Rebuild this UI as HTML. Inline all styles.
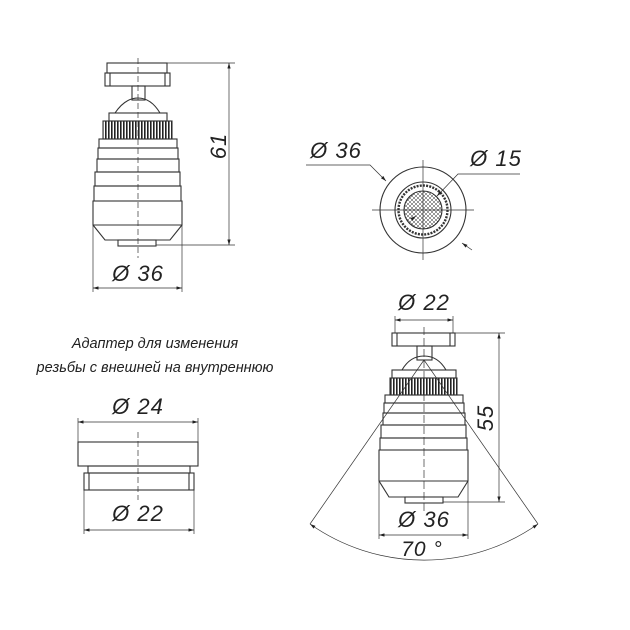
<!DOCTYPE html>
<html><head><meta charset="utf-8"><style>body{margin:0;background:#fff}svg{display:block}text{font-family:"Liberation Sans","DejaVu Sans",sans-serif;font-style:italic;fill:#222}</style></head><body>
<svg width="630" height="630" viewBox="0 0 630 630" xmlns="http://www.w3.org/2000/svg">
<defs>
<marker id="a" viewBox="0 0 10 6" refX="10" refY="3" markerWidth="8" markerHeight="5" orient="auto-start-reverse"><path d="M0,0L10,3L0,6z" fill="#222"/></marker>
<pattern id="k" width="3" height="10" patternUnits="userSpaceOnUse"><rect width="1.6" height="10" fill="#222"/></pattern>
<pattern id="m" width="4" height="4" patternUnits="userSpaceOnUse"><path d="M0,0L4,4M4,0L0,4" stroke="#333" stroke-width="0.5"/></pattern>
</defs>
<g fill="none" stroke="#333" stroke-width="1.1">
<rect x="107" y="63" width="60" height="10"/><rect x="105" y="73" width="65" height="13"/><line x1="110" y1="73" x2="110" y2="86"/><line x1="165" y1="73" x2="165" y2="86"/>
<rect x="132" y="86" width="13" height="14"/>
<path d="M115,113 Q125,98 138,98 Q151,98 160,113"/>
<rect x="109" y="113" width="58" height="8"/>
<rect x="103" y="121" width="69" height="18" fill="url(#k)"/>
<rect x="99" y="139" width="78" height="9"/>
<rect x="98" y="148" width="80" height="11"/>
<rect x="97" y="159" width="82" height="13"/>
<rect x="95" y="172" width="85" height="14"/>
<rect x="94" y="186" width="87" height="15"/>
<path d="M93,201 L182,201 L182,225 L170,240 L105,240 L93,225 Z"/>
<line x1="93" y1="225" x2="182" y2="225"/>
<rect x="118" y="240" width="38" height="6"/>
<line x1="138" y1="58" x2="138" y2="258" stroke-dasharray="6,3" stroke-width="0.7"/>
<g stroke-width="0.7"><line x1="167" y1="63" x2="235" y2="63"/><line x1="156" y1="245" x2="235" y2="245"/>
<line x1="229" y1="63" x2="229" y2="245" marker-start="url(#a)" marker-end="url(#a)"/>
<line x1="93" y1="225" x2="93" y2="292"/><line x1="182" y1="225" x2="182" y2="292"/>
<line x1="93" y1="288" x2="182" y2="288" marker-start="url(#a)" marker-end="url(#a)"/></g>
<circle cx="423" cy="210" r="43"/><circle cx="423" cy="210" r="28"/>
<circle cx="423" cy="210" r="24.5" stroke-dasharray="2,1.2" stroke-width="2.4"/>
<circle cx="423" cy="210" r="19" fill="url(#m)"/>
<g stroke-width="0.7"><line x1="372" y1="210" x2="474" y2="210"/><line x1="423" y1="160" x2="423" y2="260"/>
<polyline points="306,165 370,165 386,181" marker-end="url(#a)"/>
<polyline points="520,174 458,174 437,196" marker-end="url(#a)"/>
<line x1="412" y1="219" x2="416" y2="216" marker-end="url(#a)"/>
<line x1="472" y1="250" x2="462" y2="243" marker-end="url(#a)"/></g>
<rect x="78" y="442" width="120" height="24"/>
<rect x="88" y="466" width="102" height="7"/>
<rect x="84" y="473" width="110" height="17"/><line x1="89" y1="473" x2="89" y2="490"/><line x1="189" y1="473" x2="189" y2="490"/>
<line x1="138" y1="432" x2="138" y2="500" stroke-dasharray="6,3" stroke-width="0.7"/>
<g stroke-width="0.7"><line x1="78" y1="418" x2="78" y2="442"/><line x1="198" y1="418" x2="198" y2="442"/>
<line x1="78" y1="422" x2="198" y2="422" marker-start="url(#a)" marker-end="url(#a)"/>
<line x1="84" y1="490" x2="84" y2="534"/><line x1="194" y1="490" x2="194" y2="534"/>
<line x1="84" y1="530" x2="194" y2="530" marker-start="url(#a)" marker-end="url(#a)"/></g>
<rect x="392" y="333" width="63" height="13"/><line x1="397" y1="333" x2="397" y2="346"/><line x1="450" y1="333" x2="450" y2="346"/>
<rect x="417" y="346" width="15" height="14"/>
<path d="M402,370 Q410,356 424,356 Q438,356 446,370"/>
<rect x="392" y="370" width="64" height="8"/>
<rect x="390" y="378" width="67" height="17" fill="url(#k)"/>
<rect x="385" y="395" width="78" height="8"/>
<rect x="384" y="403" width="80" height="10"/>
<rect x="383" y="413" width="82" height="12"/>
<rect x="381" y="425" width="85" height="13"/>
<rect x="380" y="438" width="87" height="12"/>
<path d="M379,450 L468,450 L468,481 L458,497 L389,497 L379,481 Z"/><line x1="379" y1="481" x2="468" y2="481"/>
<rect x="405" y="497" width="38" height="6"/>
<g stroke-width="0.7"><line x1="424" y1="327" x2="424" y2="512" stroke-dasharray="8,3"/>
<line x1="424" y1="360" x2="310" y2="524"/><line x1="424" y1="360" x2="538" y2="524"/>
<path d="M310,524 A198,198 0 0 0 538,524" marker-start="url(#a)" marker-end="url(#a)"/>
<line x1="395" y1="316" x2="395" y2="333"/><line x1="453" y1="316" x2="453" y2="333"/>
<line x1="395" y1="320" x2="453" y2="320" marker-start="url(#a)" marker-end="url(#a)"/>
<line x1="455" y1="333" x2="505" y2="333"/><line x1="443" y1="502" x2="505" y2="502"/>
<line x1="499" y1="333" x2="499" y2="502" marker-start="url(#a)" marker-end="url(#a)"/>
<line x1="379" y1="481" x2="379" y2="539"/><line x1="468" y1="481" x2="468" y2="539"/>
<line x1="379" y1="535" x2="468" y2="535" marker-start="url(#a)" marker-end="url(#a)"/></g>
</g>
<g font-size="22" letter-spacing="1">
<text x="138" y="281" text-anchor="middle">Ø 36</text>
<text transform="translate(226,146) rotate(-90)" text-anchor="middle">61</text>
<text x="336" y="158" text-anchor="middle">Ø 36</text>
<text x="496" y="166" text-anchor="middle">Ø 15</text>
<text x="138" y="414" text-anchor="middle">Ø 24</text>
<text x="138" y="521" text-anchor="middle">Ø 22</text>
<text x="424" y="310" text-anchor="middle">Ø 22</text>
<text transform="translate(493,418) rotate(-90)" text-anchor="middle">55</text>
<text x="424" y="527" text-anchor="middle">Ø 36</text>
<text x="422" y="556" text-anchor="middle" font-size="21">70 °</text>
</g>
<g font-size="14.5" text-anchor="middle">
<text x="155" y="348">Адаптер для изменения</text>
<text x="155" y="372">резьбы с внешней на внутреннюю</text>
</g>
</svg>
</body></html>
